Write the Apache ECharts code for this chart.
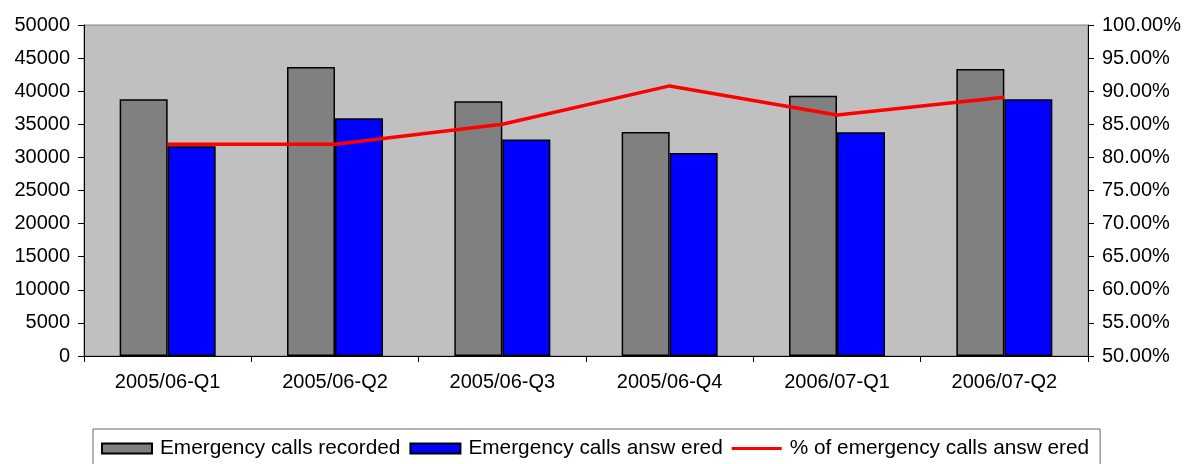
<!DOCTYPE html>
<html>
<head>
<meta charset="utf-8">
<script src="https://cdn.jsdelivr.net/npm/echarts@6/dist/echarts.min.js"></script>
<style>
  html, body { margin: 0; padding: 0; background: #fff; }
  #main { width: 1187px; height: 464px; }
</style>
</head>
<body>
<div id="main"></div>
<script>
var categories = ['2005/06-Q1', '2005/06-Q2', '2005/06-Q3', '2005/06-Q4', '2006/07-Q1', '2006/07-Q2'];
var callsRecorded = [38800, 43650, 38500, 33850, 39300, 43350];
var callsAnswered = [31700, 35900, 32700, 30650, 33800, 38800];
var pctAnswered = [82.0, 82.0, 85.0, 90.8, 86.4, 89.1];

var chart = (function () {
    var font = "'Liberation Sans', Arial, sans-serif";
    var Return = {
        init: function () {
            var myChart = echarts.init(document.getElementById('main'));
            myChart.setOption(buildOption());
        }
    };
    var buildOption = function () {
        return {
            animation: false,
            textStyle: { fontFamily: font, color: '#000' },
            grid: {
                left: 84,
                right: 99,
                top: 25,
                bottom: 108,
                show: true,
                backgroundColor: '#c0c0c0',
                borderColor: '#808080',
                borderWidth: 1
            },
            legend: {
                left: 93,
                top: 429,
                padding: [9, 11, 30, 8],
                itemGap: 9,
                itemWidth: 50,
                itemHeight: 10,
                borderColor: '#666',
                borderWidth: 1,
                textStyle: { fontFamily: font, fontSize: 20.8, color: '#000', padding: [0, 0, 0, 3] },
                data: [
                    { name: 'Emergency calls recorded', icon: 'rect' },
                    { name: 'Emergency calls answ ered', icon: 'rect' },
                    { name: '% of emergency calls answ ered', icon: 'path://M0,0L55,0L55,3.5L0,3.5Z' }
                ]
            },
            xAxis: {
                type: 'category',
                data: categories,
                axisLine: { lineStyle: { color: '#000', width: 1 } },
                axisTick: { show: true, length: 6, lineStyle: { color: '#000' } },
                axisLabel: { fontSize: 20, color: '#000', margin: 16, fontFamily: font }
            },
            yAxis: [{
                type: 'value',
                min: 0,
                max: 50000,
                interval: 5000,
                axisLine: { show: true, lineStyle: { color: '#000', width: 1 } },
                axisTick: { show: true, length: 6, lineStyle: { color: '#000' } },
                splitLine: { show: false },
                axisLabel: {
                    fontSize: 20, color: '#000', margin: 14, fontFamily: font,
                    formatter: function (v) { return String(v); }
                }
            }, {
                type: 'value',
                min: 50,
                max: 100,
                interval: 5,
                position: 'right',
                axisLine: { show: true, lineStyle: { color: '#000', width: 1 } },
                axisTick: { show: true, length: 6, lineStyle: { color: '#000' } },
                splitLine: { show: false },
                axisLabel: {
                    fontSize: 20, color: '#000', margin: 14, fontFamily: font,
                    formatter: function (v) { return v.toFixed(2) + '%'; }
                }
            }],
            series: [{
                name: 'Emergency calls recorded',
                type: 'bar',
                data: callsRecorded,
                barWidth: 48,
                barGap: '0%',
                itemStyle: { color: '#808080', borderColor: '#000', borderWidth: 1.5 }
            }, {
                name: 'Emergency calls answ ered',
                type: 'bar',
                data: callsAnswered,
                barWidth: 48,
                barGap: '0%',
                itemStyle: { color: '#0000ff', borderColor: '#000', borderWidth: 1.5 }
            }, {
                name: '% of emergency calls answ ered',
                type: 'line',
                yAxisIndex: 1,
                data: pctAnswered,
                symbol: 'none',
                lineStyle: { color: '#ff0000', width: 3.5 },
                itemStyle: { color: '#ff0000', borderWidth: 0 },
                z: 5
            }]
        };
    };
    return Return;
})();

; (function () {
    chart.init();
})();
</script>
</body>
</html>
